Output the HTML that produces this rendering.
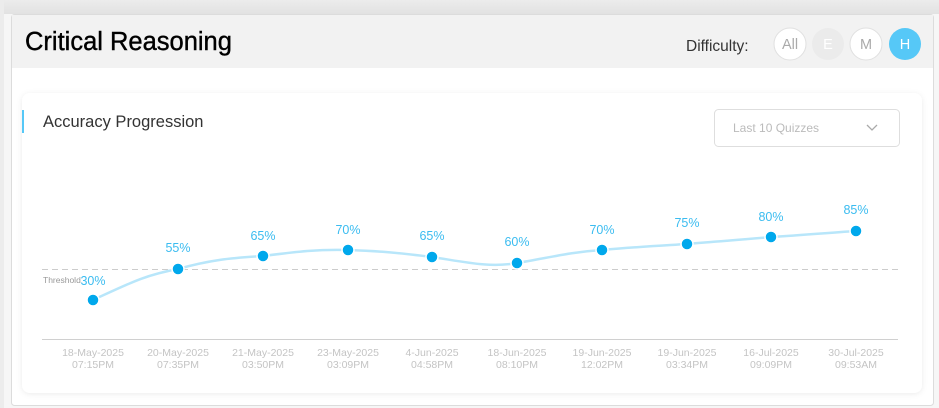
<!DOCTYPE html>
<html><head><meta charset="utf-8"><style>
html,body{margin:0;padding:0;width:939px;height:408px;overflow:hidden;background:#f5f5f5;font-family:"Liberation Sans",sans-serif}
</style></head><body>
<svg width="939" height="408" viewBox="0 0 939 408" xmlns="http://www.w3.org/2000/svg" style="display:block">
<defs>
<linearGradient id="tg" x1="0" y1="0" x2="0" y2="1"><stop offset="0" stop-color="#ececec"/><stop offset="1" stop-color="#e2e2e2"/></linearGradient>
<filter id="sh" x="-5%" y="-5%" width="110%" height="115%"><feDropShadow dx="0" dy="1" stdDeviation="3" flood-color="#000" flood-opacity="0.08"/></filter>
</defs>
<rect x="0" y="0" width="939" height="408" fill="#f6f6f6"/>
<rect x="0" y="0" width="939" height="14" fill="url(#tg)"/>
<rect x="0" y="0" width="4" height="408" fill="#ececec"/>
<rect x="11.5" y="14.5" width="922" height="391" rx="3" fill="#fff" stroke="#dcdcdc"/>
<rect x="12" y="15" width="921" height="53" fill="#f2f2f2"/>
<text x="25" y="50" font-size="25.5" fill="#000" stroke="#000" stroke-width="0.4">Critical Reasoning</text>
<text x="686" y="51" font-size="15.5" fill="#333">Difficulty:</text>
<circle cx="790" cy="44" r="16" fill="#fff" stroke="#e0e0e0"/>
<text x="790" y="49" font-size="14.5" fill="#aaa" text-anchor="middle">All</text>
<circle cx="828" cy="44" r="16" fill="#ebebeb"/>
<text x="828" y="49" font-size="14.5" fill="#fff" text-anchor="middle">E</text>
<circle cx="866" cy="44" r="16" fill="#fff" stroke="#e0e0e0"/>
<text x="866" y="49" font-size="14.5" fill="#aaa" text-anchor="middle">M</text>
<circle cx="905" cy="44" r="16" fill="#56c8f7"/>
<text x="905" y="49" font-size="14.5" fill="#fff" text-anchor="middle">H</text>
<rect x="22" y="93" width="900" height="300" rx="8" fill="#fff" filter="url(#sh)"/>
<rect x="22" y="110" width="2" height="23" fill="#56c8f7"/>
<text x="43" y="127" font-size="16.5" fill="#333">Accuracy Progression</text>
<rect x="714.5" y="109.5" width="185" height="37" rx="4" fill="#fff" stroke="#dedede"/>
<text x="733" y="132" font-size="12" fill="#bbb">Last 10 Quizzes</text>
<polyline points="867,125 872,130 877,125" fill="none" stroke="#aaa" stroke-width="1.3"/>
<line x1="42" y1="269.5" x2="898" y2="269.5" stroke="#ccc" stroke-dasharray="6,4"/>
<text x="43" y="283" font-size="8.5" fill="#999">Threshold</text>
<line x1="42" y1="339.5" x2="898" y2="339.5" stroke="#d0d0d0"/>
<path d="M93,300 C130,283 145,275 178,269 C210,260 230,258 263,256 C295,252 318,249 348,250 C380,251 400,253 432,257 C465,262 490,268 517,263 C548,258 570,252 602,250 C635,247 655,246 687,244 C720,241 740,240 771,237 C805,235 825,233 856,231" fill="none" stroke="#b8e6fa" stroke-width="2.5"/>
<g fill="#00a8ec" stroke="#fff" stroke-width="1.5">
<circle cx="93" cy="300" r="6"/><circle cx="178" cy="269" r="6"/><circle cx="263" cy="256" r="6"/><circle cx="348" cy="250" r="6"/><circle cx="432" cy="257" r="6"/><circle cx="517" cy="263" r="6"/><circle cx="602" cy="250" r="6"/><circle cx="687" cy="244" r="6"/><circle cx="771" cy="237" r="6"/><circle cx="856" cy="231" r="6"/>
</g>
<g font-size="12.5" fill="#3bbcf0" text-anchor="middle">
<text x="93" y="285">30%</text><text x="178" y="252">55%</text><text x="263" y="240">65%</text><text x="348" y="234">70%</text><text x="432" y="240">65%</text><text x="517" y="246">60%</text><text x="602" y="234">70%</text><text x="687" y="227">75%</text><text x="771" y="221">80%</text><text x="856" y="214">85%</text>
</g>
<g font-size="10.5" fill="#c4c4c4" text-anchor="middle">
<text x="93" y="356">18-May-2025</text><text x="93" y="368">07:15PM</text>
<text x="178" y="356">20-May-2025</text><text x="178" y="368">07:35PM</text>
<text x="263" y="356">21-May-2025</text><text x="263" y="368">03:50PM</text>
<text x="348" y="356">23-May-2025</text><text x="348" y="368">03:09PM</text>
<text x="432" y="356">4-Jun-2025</text><text x="432" y="368">04:58PM</text>
<text x="517" y="356">18-Jun-2025</text><text x="517" y="368">08:10PM</text>
<text x="602" y="356">19-Jun-2025</text><text x="602" y="368">12:02PM</text>
<text x="687" y="356">19-Jun-2025</text><text x="687" y="368">03:34PM</text>
<text x="771" y="356">16-Jul-2025</text><text x="771" y="368">09:09PM</text>
<text x="856" y="356">30-Jul-2025</text><text x="856" y="368">09:53AM</text>
</g>
</svg>
</body></html>
